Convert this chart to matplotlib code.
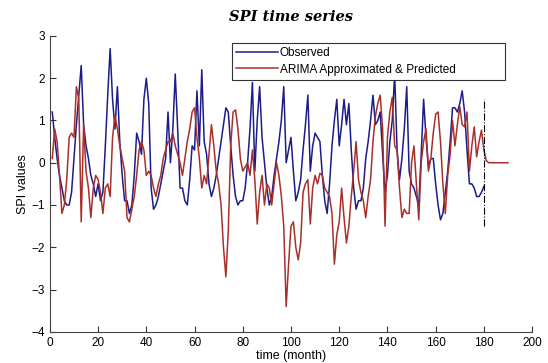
import numpy as np
import matplotlib.pyplot as plt

# observed SPI, months 1..180
observed = [1.2, 0.6, 0.1, -0.3, -0.6, -0.9, -1.0, -1.0, -0.7, 0.1,
            0.9, 1.6, 2.3, 0.9, 0.4, 0.1, -0.3, -0.5, -0.8, -0.5,
            -0.9, -0.7, 0.4, 1.6, 2.7, 1.5, 0.8, 1.8, 0.5, -0.3,
            -0.9, -0.9, -1.2, -1.0, -0.3, 0.7, 0.5, 0.2, 1.5, 2.0,
            1.4, -0.6, -1.1, -1.0, -0.8, -0.5, -0.2, 0.1, 1.2, 0.0,
            0.8, 2.1, 0.8, -0.6, -0.6, -0.9, -1.0, -0.4, 0.4, 0.3,
            1.7, 0.4, 2.2, 0.5, 0.2, -0.5, -0.8, -0.6, -0.3, 0.1,
            0.5, 0.9, 1.3, 1.2, 0.4, -0.3, -0.8, -1.0, -0.9, -0.9,
            -0.6, 0.0, 0.8, 1.9, -0.2, 1.0, 1.8, 0.6, 0.0, -0.6,
            -1.0, -0.8, -0.3, 0.1, 0.5, 1.0, 1.8, 0.0, 0.3, 0.6,
            -0.2, -0.9, -0.7, -0.4, 0.3, 0.9, 1.6, -0.2, 0.4, 0.7,
            0.6, 0.5, -0.3, -0.9, -1.2, -0.5, 0.4, 1.0, 1.5, 0.4,
            0.9, 1.5, 0.9, 1.4, 0.3, -0.6, -1.1, -0.9, -0.9, -0.6,
            0.1, 0.5, 1.0, 1.6, 0.9, 1.0, 1.2, 0.2, -0.7, -0.3,
            0.5, 1.0, 2.1, 0.3, -0.4, 0.1, 0.8, 1.8, -0.2, -0.5,
            -0.6, -0.8, -1.0, 0.2, 1.5, 0.6, -0.1, 0.1, 0.1, -0.5,
            -1.0, -1.35, -1.2, -0.7, -0.2, 0.5, 1.3, 1.3, 1.2, 1.4,
            1.7, 1.2, 0.3, -0.5, -0.5, -0.6, -0.8, -0.8, -0.7, -0.56]

# ARIMA fit (1..180) and forecast (181..190)
arima = [0.1, 0.8, 0.5, -0.3, -1.2, -1.0, -0.4, 0.6, 0.7, 0.6,
         1.8, 1.5, -1.4, 0.9, -0.2, -0.6, -1.3, -0.6, -0.3, -0.4,
         -0.7, -1.2, -0.6, -0.5, -0.8, 0.6, 1.1, 0.8, 0.4, 0.1,
         -0.2, -1.3, -1.4, -1.1, -0.8, -0.3, 0.3, 0.5, 0.3, -0.3,
         -0.2, -0.3, -0.6, -0.8, -0.5, -0.3, 0.1, 0.3, 0.5, 0.5,
         0.7, 0.4, 0.2, 0.0, -0.3, 0.1, 0.5, 0.8, 1.2, 1.3,
         0.6, 0.1, -0.6, -0.3, -0.5, 0.2, 0.9, 0.4, -0.2, -0.5,
         -1.0, -2.0, -2.7, -1.6, 0.4, 1.2, 1.25, 0.8, 0.1, -0.2,
         -0.1, 0.0, -0.3, 0.3, -0.4, -1.45, -0.7, -0.3, -1.0, -0.5,
         -0.6, -1.0, -0.5, 0.0, -0.3, -0.8, -1.5, -3.4, -2.4, -1.5,
         -1.4, -2.0, -2.3, -1.9, -0.7, -0.5, -0.4, -1.45, -0.6, -0.3,
         -0.5, -0.25, -0.3, -0.6, -0.7, -0.8, -1.2, -2.4, -1.7, -1.4,
         -0.6, -1.3, -1.9, -1.5, -0.8, -0.2, 0.5, -0.4, -0.7, -0.9,
         -1.3, -0.8, -0.4, 0.5, 1.1, 1.4, 1.6, 0.8, -1.5, 0.6,
         1.2, 1.55, 0.4, 0.3, -0.6, -1.3, -1.1, -1.2, -1.2, 0.0,
         0.4, -0.5, -1.35, 0.0, 0.5, 0.8, -0.2, 0.1, 0.7, 1.15,
         1.2, 0.5, -0.5, -1.2, -0.3, 0.2, 1.0, 0.4, 0.9, 1.33,
         0.9, 0.85, 1.2, -0.2, 0.4, 0.85, 0.14, 0.5, 0.77, 0.3,
         0.05, 0.0, 0.0, 0.0, 0.0, 0.0, 0.0, 0.0, 0.0, 0.0]

split_month = 180

fig = plt.figure(figsize=(5.48, 3.63), dpi=100)
ax = fig.add_axes([0.091, 0.086, 0.88, 0.815])

t_obs = np.arange(1, len(observed) + 1)
t_ar = np.arange(1, len(arima) + 1)
ax.plot(t_obs, observed, color='#1c1c8a', lw=1.1, label='Observed')
ax.plot(t_ar, arima, color='#a8302c', lw=1.1, label='ARIMA Approximated & Predicted')
ax.vlines(split_month, -1.5, 1.5, colors='k', linestyles='-.', lw=0.8)

ax.set_xlim(0, 200)
ax.set_ylim(-4, 3)
ax.set_xticks(np.arange(0, 201, 20))
ax.set_yticks(np.arange(-4, 4, 1))
for s in ['top', 'right']:
    ax.spines[s].set_visible(False)
for s in ['left', 'bottom']:
    ax.spines[s].set_color('#444444')
ax.tick_params(direction='in', length=4, labelsize=8.5, colors='#333333',
               labelcolor='black')
for lab in ax.get_xticklabels() + ax.get_yticklabels():
    lab.set_family('Liberation Sans')

ax.set_xlabel('time (month)', fontsize=9, family='Liberation Sans', labelpad=1)
ax.set_ylabel('SPI values', fontsize=9, family='Liberation Sans', labelpad=2)
ax.set_title('SPI time series', fontsize=10.5, fontweight='bold', style='italic',
             family='DejaVu Serif', pad=11)

leg = ax.legend(loc='upper left', bbox_to_anchor=(0.378, 0.85, 0.566, 0.125),
                mode='expand', fancybox=False, edgecolor='#333333', framealpha=1,
                prop={'family': 'Liberation Sans', 'size': 8.5},
                handlelength=3.5, handletextpad=0.2, borderpad=0.35,
                labelspacing=0.35, borderaxespad=0)
leg.get_frame().set_linewidth(0.8)

fig.savefig('out.png', dpi=100)
